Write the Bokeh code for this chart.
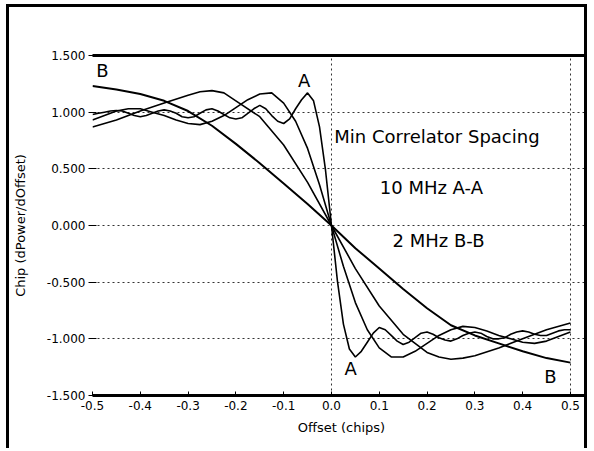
from bokeh.plotting import figure
from bokeh.models import Range1d, FixedTicker, PrintfTickFormatter, LinearAxis, Label
from bokeh.embed import file_html
from bokeh.resources import INLINE

# ---------------- data ----------------
x_ticks = [-0.5, -0.4, -0.3, -0.2, -0.1, 0.0, 0.1, 0.2, 0.3, 0.4, 0.5]
y_ticks = [-1.5, -1.0, -0.5, 0.0, 0.5, 1.0, 1.5]

# 2 MHz curve (B-B)
b_offset = [-0.5, -0.45, -0.4, -0.35, -0.3, -0.25, -0.2, -0.15, -0.1, -0.05, 0.0,
            0.05, 0.1, 0.15, 0.2, 0.25, 0.3, 0.35, 0.4, 0.45, 0.5]
b_chip = [1.23, 1.20, 1.16, 1.10, 1.01, 0.88, 0.72, 0.55, 0.37, 0.19, 0.0,
          -0.20, -0.38, -0.56, -0.73, -0.88, -0.97, -1.04, -1.11, -1.17, -1.21]

# intermediate curve with broad overshoot
d_offset = [-0.5, -0.45, -0.4, -0.35, -0.3, -0.275, -0.25, -0.225, -0.2, -0.15, -0.1, -0.05, 0.0,
            0.05, 0.1, 0.15, 0.2, 0.225, 0.25, 0.275, 0.3, 0.35, 0.4, 0.45, 0.5]
d_chip = [0.87, 0.93, 1.01, 1.08, 1.15, 1.18, 1.19, 1.17, 1.10, 0.96, 0.71, 0.38, 0.0,
          -0.38, -0.71, -0.96, -1.12, -1.16, -1.18, -1.17, -1.15, -1.08, -1.00, -0.92, -0.86]

# intermediate curve with medium ringing
c_offset = [-0.5, -0.475, -0.45, -0.425, -0.4, -0.375, -0.35, -0.325, -0.3, -0.275,
            -0.25, -0.225, -0.2, -0.175, -0.15, -0.125, -0.1, -0.075, -0.05, -0.025,
            0.0, 0.025, 0.05, 0.075, 0.1, 0.125, 0.15, 0.175, 0.2, 0.225,
            0.25, 0.275, 0.3, 0.325, 0.35, 0.375, 0.4, 0.425, 0.45, 0.475, 0.5]
c_chip = [0.93, 0.97, 1.01, 1.03, 1.03, 1.00, 0.97, 0.93, 0.90, 0.89,
          0.92, 0.97, 1.04, 1.11, 1.16, 1.17, 1.08, 0.92, 0.68, 0.36,
          0.0, -0.36, -0.68, -0.92, -1.08, -1.16, -1.16, -1.11, -1.04, -0.97,
          -0.92, -0.89, -0.90, -0.93, -0.97, -1.00, -1.03, -1.04, -1.02, -0.98, -0.94]

# 10 MHz curve (A-A)
a_offset = [-0.5, -0.4875, -0.475, -0.4625, -0.45, -0.4375, -0.425, -0.4125, -0.4, -0.3875,
            -0.375, -0.3625, -0.35, -0.3375, -0.325, -0.3125, -0.3, -0.2875, -0.275, -0.2625,
            -0.25, -0.2375, -0.225, -0.2125, -0.2, -0.1875, -0.175, -0.1625, -0.15, -0.1375,
            -0.125, -0.1125, -0.1, -0.0875, -0.075, -0.0625, -0.05, -0.0375, -0.025, -0.0125,
            0.0, 0.0125, 0.025, 0.0375, 0.05, 0.0625, 0.075, 0.0875, 0.1, 0.1125,
            0.125, 0.1375, 0.15, 0.1625, 0.175, 0.1875, 0.2, 0.2125, 0.225, 0.2375,
            0.25, 0.2625, 0.275, 0.2875, 0.3, 0.3125, 0.325, 0.3375, 0.35, 0.3625,
            0.375, 0.3875, 0.4, 0.4125, 0.425, 0.4375, 0.45, 0.4625, 0.475, 0.4875, 0.5]
a_chip = [0.98, 0.99, 1.00, 1.01, 1.015, 1.01, 0.99, 0.97, 0.96, 0.97,
          0.99, 1.01, 1.02, 1.01, 0.99, 0.96, 0.95, 0.96, 0.99, 1.02,
          1.03, 1.01, 0.98, 0.95, 0.94, 0.95, 0.99, 1.03, 1.06, 1.03,
          0.97, 0.92, 0.90, 0.94, 1.03, 1.11, 1.17, 1.10, 0.87, 0.49,
          0.0, -0.49, -0.87, -1.09, -1.16, -1.11, -1.03, -0.95, -0.90, -0.92,
          -0.97, -1.02, -1.05, -1.03, -0.99, -0.95, -0.94, -0.96, -0.99, -1.01,
          -1.02, -1.00, -0.97, -0.95, -0.94, -0.95, -0.98, -1.00, -1.00, -0.99,
          -0.96, -0.94, -0.93, -0.94, -0.96, -0.97, -0.97, -0.95, -0.93, -0.92, -0.92]

annotations = [
    ("B", -0.479, 1.37, "center"),
    ("A", -0.057, 1.28, "center"),
    ("Min Correlator Spacing", 0.006, 0.785, "left"),
    ("10 MHz A-A", 0.209, 0.335, "center"),
    ("2 MHz B-B", 0.224, -0.13, "center"),
    ("A", 0.040, -1.26, "center"),
    ("B", 0.458, -1.33, "center"),
]

FONT = "DejaVu Sans"

p = figure(width=581, height=444,
           x_range=Range1d(-0.5, 0.542), y_range=Range1d(-1.5, 1.5),
           output_backend="svg", toolbar_location=None,
           min_border_left=83, min_border_right=0, min_border_top=48, min_border_bottom=56)
p.styles = {"margin-left": "6px", "margin-top": "4px",
            "border-left": "3px solid black", "border-top": "3px solid black",
            "border-right": "3px solid black"}
p.outline_line_color = None
p.background_fill_color = "white"
p.border_fill_color = "white"

# grid
p.xgrid.ticker = FixedTicker(ticks=[-0.5, 0.0, 0.5])
p.ygrid.ticker = FixedTicker(ticks=[-1.0, -0.5, 0.0, 0.5, 1.0])
for g in (p.xgrid, p.ygrid):
    g.grid_line_color = "#333333"
    g.grid_line_dash = "2 3"
    g.grid_line_width = 1

# x axis
xa = p.xaxis[0]
xa.ticker = FixedTicker(ticks=x_ticks)
xa.formatter = PrintfTickFormatter(format="%.1f")
xa.axis_line_width = 3
xa.axis_line_color = "black"
xa.major_tick_in = 4
xa.major_tick_out = 0
xa.minor_tick_line_color = None
xa.major_label_standoff = 5
xa.major_label_text_font = FONT
xa.major_label_text_font_size = "12px"
xa.major_label_text_color = "black"
xa.axis_label = "Offset (chips)"
xa.axis_label_text_font = FONT
xa.axis_label_text_font_style = "normal"
xa.axis_label_text_font_size = "13px"
xa.axis_label_text_color = "black"
xa.axis_label_standoff = 7

# y axis
ya = p.yaxis[0]
ya.ticker = FixedTicker(ticks=y_ticks)
ya.formatter = PrintfTickFormatter(format="%.3f")
ya.axis_line_color = None
ya.major_tick_in = 4
ya.major_tick_out = 4
ya.minor_tick_line_color = None
ya.major_label_standoff = 3
ya.major_label_text_font = FONT
ya.major_label_text_font_size = "12px"
ya.major_label_text_color = "black"
ya.axis_label = "Chip (dPower/dOffset)"
ya.axis_label_text_font = FONT
ya.axis_label_text_font_style = "normal"
ya.axis_label_text_font_size = "13px"
ya.axis_label_text_color = "black"
ya.axis_label_standoff = 16

# thick top line
top_axis = LinearAxis(ticker=FixedTicker(ticks=[]), axis_line_width=3, axis_line_color="black",
                      major_tick_line_color=None, minor_tick_line_color=None,
                      major_label_text_color=None)
p.add_layout(top_axis, "above")

# curves
p.line(b_offset, b_chip, line_color="black", line_width=2)
p.line(d_offset, d_chip, line_color="black", line_width=1.6)
p.line(c_offset, c_chip, line_color="black", line_width=1.6)
p.line(a_offset, a_chip, line_color="black", line_width=1.6)

for txt, x, y, align in annotations:
    p.add_layout(Label(x=x, y=y, text=txt, text_font=FONT, text_font_size="18px",
                       text_align=align, text_baseline="middle", text_color="black"))

open("out.html", "w").write(file_html(p, INLINE))
